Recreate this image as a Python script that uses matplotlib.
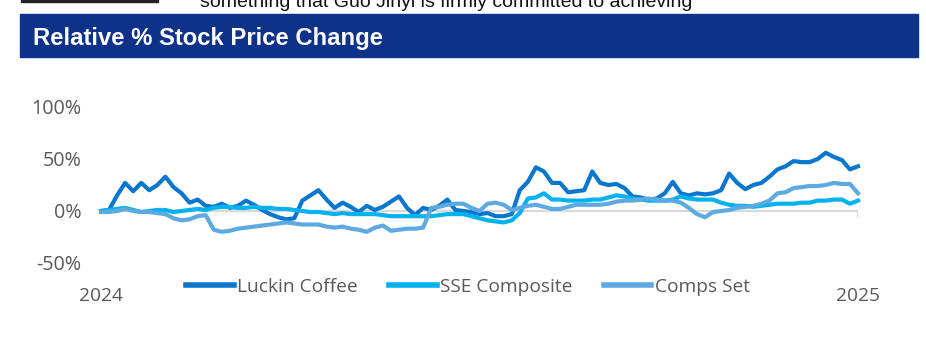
import numpy as np
import matplotlib; matplotlib.use('Agg')
import matplotlib.pyplot as plt
from matplotlib.patches import Rectangle
from matplotlib.transforms import blended_transform_factory

# relative % change, sampled ~evenly through the year
luckin = [0, 1, 15, 27, 19, 27, 20, 25, 33, 23, 17, 8, 11, 5, 4, 7, 3, 5, 10, 6,
          1, -3, -6, -8, -7, 10, 15, 20, 11, 3, 8, 4, -1, 5, 1, 4, 9, 14, 3, -4,
          3, 1, 5, 11, 1, 0, -1, -3, -2, -5, -5, -3, 20, 28, 42, 38, 27, 27, 18, 19,
          20, 38, 27, 25, 26, 22, 14, 13, 11, 12, 17, 28, 17, 15, 17, 16, 17, 20, 36, 27,
          21, 25, 27, 33, 40, 43, 48, 47, 47, 50, 56, 52, 49, 40, 43]
sse = [0, 1, 2, 3, 1, -1, 0, 1, 1, -1, 0, 1, 2, 1, 3, 4, 4, 3, 3, 4,
       3, 3, 2, 2, 1, 0, -1, -1, -2, -3, -2, -3, -3, -3, -3, -4, -5, -5, -5, -5,
       -5, -5, -4, -3, -3, -3, -5, -7, -9, -10, -11, -9, -2, 12, 13, 17, 11, 11, 10, 10,
       10, 11, 11, 13, 15, 14, 12, 11, 10, 10, 10, 11, 14, 12, 11, 11, 11, 8, 6, 5,
       5, 4, 5, 6, 7, 7, 7, 8, 8, 10, 10, 11, 11, 7, 10]
comps = [-1, -1, 0, 2, 0, -1, -1, -2, -3, -7, -9, -8, -5, -4, -18, -20, -19, -17, -16, -15,
         -14, -13, -12, -11, -12, -13, -13, -13, -15, -16, -15, -17, -18, -20, -16, -14, -19, -18, -17, -17,
         -16, 3, 4, 6, 7, 7, 3, 0, 7, 8, 6, 1, 3, 5, 6, 4, 2, 2, 4, 6,
         6, 6, 6, 7, 9, 10, 10, 11, 12, 11, 10, 10, 8, 3, -3, -6, -1, 0, 1, 3,
         4, 5, 7, 10, 17, 18, 22, 23, 24, 24, 25, 27, 26, 26, 17]
series = [('Luckin Coffee', luckin, '#0A77CF'),
          ('SSE Composite', sse, '#00B2F0'),
          ('Comps Set', comps, '#5DAAE3')]
yticks = [-50, 0, 50, 100]
ylabels = ['-50%', '0%', '50%', '100%']
xlabels = ['2024', '2025']

W, H = 926, 354
fig = plt.figure(figsize=(W/100, H/100), dpi=100)
narrow = ['Liberation Sans Narrow', 'Liberation Sans', 'DejaVu Sans']
tickfont = ['Open Sans', 'DejaVu Sans']
grey = '#595959'

# header strip, clipped text from the page above, title banner
fig.patches.append(Rectangle((21/W, 1-2/H), 137/W, 2/H, transform=fig.transFigure, color='#222222'))
fig.text(200/W, 1-7/H, 'something that Guo Jinyi is firmly committed to achieving',
         family=narrow, fontsize=14, color='#111111', va='baseline')
fig.patches.append(Rectangle((20/W, 1-57/H), 898/W, 43/H, transform=fig.transFigure, color='#0E3289'))
fig.text(33/W, 1-45/H, 'Relative % Stock Price Change', family=narrow, fontsize=17.2,
         weight='bold', color='white', va='baseline')

n = len(luckin)
x = np.arange(n)
ax = fig.add_axes([101/W, 1-263/H, 757/W, 156/H])
ax.axhline(0, color='#D9D9D9', lw=1.6, zorder=1)
ax.vlines(n-1, -7, 0, color='#D9D9D9', lw=1.6, zorder=1)
for name, vals, col in series:
    ax.plot(x, vals, color=col, lw=3, label=name, clip_on=False, zorder=3)
ax.set_xlim(0, n-1); ax.set_ylim(-50, 100)
ax.set_yticks(yticks)
ax.set_yticklabels(ylabels, family=tickfont, fontsize=14.2, color=grey)
ax.tick_params(axis='y', length=0, pad=14)
ax.set_xticks([])
for s in ax.spines.values(): s.set_visible(False)
tr = blended_transform_factory(ax.transData, fig.transFigure)
for xi, lab in zip([0, n-1], xlabels):
    ax.text(xi, 1-296/H, lab, transform=tr, ha='center', va='center',
            family=tickfont, fontsize=13.8, color=grey)

leg = fig.legend(loc='center', bbox_to_anchor=(468/W, 1-287/H), ncol=3, frameon=False,
                 prop={'family': tickfont, 'size': 13.8}, handlelength=2.5, handletextpad=0.2,
                 columnspacing=1.6, borderpad=0)
for h in leg.get_lines(): h.set_linewidth(4)
for t in leg.get_texts(): t.set_color(grey)

fig.savefig('out.png', dpi=100)
